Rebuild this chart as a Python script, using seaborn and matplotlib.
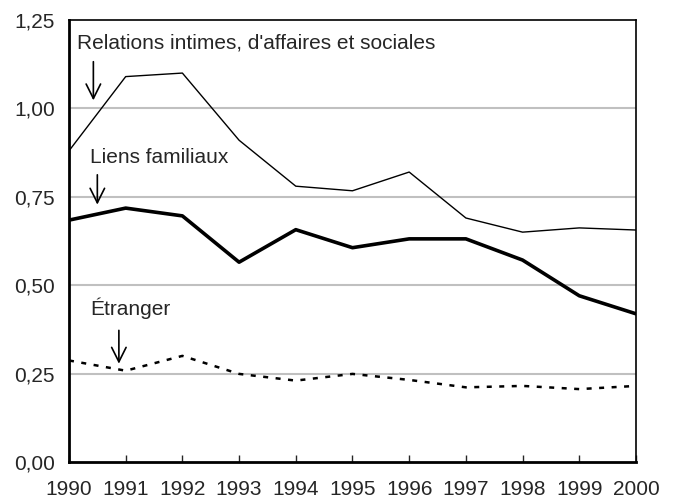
import pandas as pd
import matplotlib
matplotlib.use("Agg")
import matplotlib.pyplot as plt
import seaborn as sns

# Données
annees = [1990, 1991, 1992, 1993, 1994, 1995, 1996, 1997, 1998, 1999, 2000]
relations = [0.88, 1.09, 1.10, 0.91, 0.78, 0.767, 0.82, 0.69, 0.65, 0.662, 0.656]
liens = [0.684, 0.718, 0.696, 0.565, 0.657, 0.606, 0.631, 0.631, 0.571, 0.47, 0.419]
etranger = [0.287, 0.258, 0.30, 0.249, 0.23, 0.249, 0.232, 0.211, 0.215, 0.206, 0.215]
y_ticks = [0.0, 0.25, 0.5, 0.75, 1.0, 1.25]

df = pd.DataFrame({"annee": annees, "relations": relations,
                   "liens": liens, "etranger": etranger})

sns.set_style("white")
plt.rcParams['font.family'] = ['Liberation Sans', 'DejaVu Sans']

fig = plt.figure(figsize=(6.73, 5.01), dpi=100)
ax = fig.add_axes([0.1025, 0.078, 0.8425, 0.882])

for y in y_ticks[1:-1]:
    ax.axhline(y, color='#c0c0c0', lw=1.5, zorder=0)

sns.lineplot(data=df, x="annee", y="relations", ax=ax, color='black', lw=1.0)
sns.lineplot(data=df, x="annee", y="liens", ax=ax, color='black', lw=2.6)
sns.lineplot(data=df, x="annee", y="etranger", ax=ax, color='black', lw=1.8,
             linestyle=(0, (2, 3)))

fs = 15
ax.set_xlim(1990, 2000)
ax.set_ylim(0, 1.25)
ax.set_xticks(annees)
ax.set_xticklabels([str(a) for a in annees], fontsize=fs)
ax.set_yticks(y_ticks)
ax.set_yticklabels([f"{v:.2f}".replace('.', ',') for v in y_ticks], fontsize=fs)
ax.tick_params(axis='x', direction='in', length=5, width=1, pad=13, bottom=True)
ax.tick_params(axis='y', length=0, pad=10)
ax.set_xlabel("")
ax.set_ylabel("")
for s in ax.spines.values():
    s.set_visible(True)
    s.set_color('black')
    s.set_linewidth(1.2)
ax.spines['left'].set_linewidth(2)
ax.spines['bottom'].set_linewidth(2)

arrow = dict(arrowstyle='->', color='black', lw=1.2, mutation_scale=26)
ax.text(1990.15, 1.185, "Relations intimes, d'affaires et sociales", fontsize=fs,
        va='center', ha='left')
ax.annotate("", xy=(1990.43, 1.015), xytext=(1990.43, 1.14), arrowprops=arrow)
ax.text(1990.37, 0.862, "Liens familiaux", fontsize=fs, va='center', ha='left')
ax.annotate("", xy=(1990.5, 0.72), xytext=(1990.5, 0.82), arrowprops=arrow)
ax.text(1990.37, 0.435, "Étranger", fontsize=fs, va='center', ha='left')
ax.annotate("", xy=(1990.88, 0.27), xytext=(1990.88, 0.38), arrowprops=arrow)

fig.savefig("out.png", dpi=100)
